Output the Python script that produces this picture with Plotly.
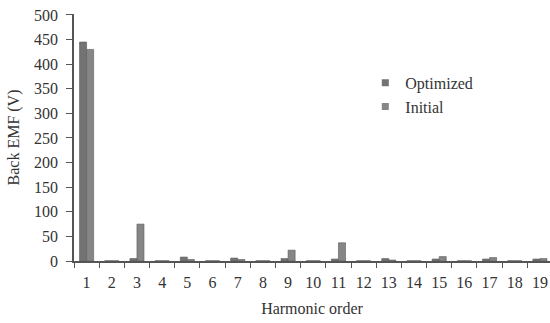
import plotly.graph_objects as go

# Harmonic orders and back-EMF amplitudes (V)
harmonic_order = [str(i) for i in range(1, 20)]
optimized = [445, 0.5, 5, 0.5, 8, 0.5, 6, 0.5, 5, 0.5, 4, 0.5, 5, 0.5, 4, 0.5, 4, 0.5, 4]
initial = [430, 0.5, 75, 0.5, 3, 0.5, 3, 0.5, 22, 0.5, 37, 0.5, 2, 0.5, 9, 0.5, 7, 0.5, 5]
series_names = ["Optimized", "Initial"]
series_colors = ["#737373", "#868686"]

font_family = "Liberation Serif, Times New Roman, serif"
text_color = "#333333"

fig = go.Figure()
for name, vals, color in zip(series_names, [optimized, initial], series_colors):
    fig.add_trace(go.Bar(
        x=harmonic_order, y=vals, name=name, showlegend=False,
        marker=dict(color=color, line=dict(color="#5a5a5a", width=0.6)),
    ))

# Legend entries drawn as small square markers
for name, color in zip(series_names, series_colors):
    fig.add_trace(go.Scatter(
        x=[None], y=[None], mode="markers", name=name, legendgroup=name,
        marker=dict(symbol="square", size=7, color=color),
    ))

fig.update_layout(
    width=550, height=323,
    margin=dict(l=74, r=0, t=14, b=62),
    paper_bgcolor="white", plot_bgcolor="white",
    barmode="group", bargap=0.44, bargroupgap=0.0,
    font=dict(family=font_family, size=16, color=text_color),
    showlegend=True,
    legend=dict(
        x=0.612, y=0.79, xanchor="left", yanchor="top",
        bgcolor="rgba(0,0,0,0)", font=dict(size=16, color=text_color),
        tracegroupgap=0,
    ),
)

fig.update_xaxes(
    type="category", range=[-0.5, 18.4],
    tickson="boundaries", ticks="outside", ticklen=5, tickcolor="#555555",
    ticklabelstandoff=6,
    showline=True, linecolor="#555555", linewidth=1.5,
    showgrid=False, zeroline=False,
    tickfont=dict(size=16, color=text_color),
    title=dict(text="Harmonic order", font=dict(size=16, color=text_color), standoff=13),
)
fig.update_yaxes(
    range=[0, 502], tickvals=list(range(0, 501, 50)),
    ticks="outside", ticklen=6, tickcolor="#555555",
    ticklabelstandoff=5,
    showline=True, linecolor="#555555", linewidth=1.5,
    showgrid=False, zeroline=False,
    tickfont=dict(size=16, color=text_color),
    title=dict(text="Back EMF (V)", font=dict(size=16, color=text_color), standoff=10),
)

fig.write_html("out.html")
